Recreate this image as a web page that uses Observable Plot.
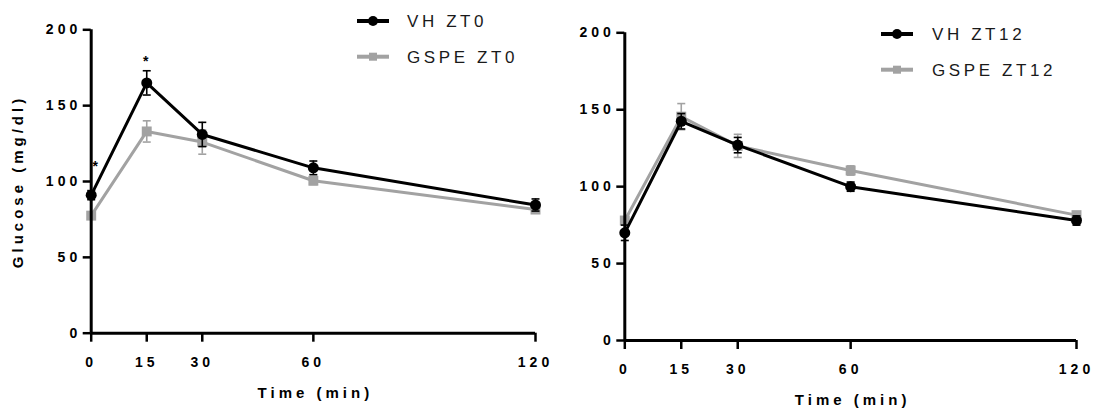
<!DOCTYPE html>
<html><head><meta charset="utf-8">
<script src="https://cdn.jsdelivr.net/npm/d3@7"></script>
<script src="https://cdn.jsdelivr.net/npm/@observablehq/plot@0.6"></script>
<style>
body{margin:0;background:#fff;}
#wrap{position:relative;width:1093px;height:410px;overflow:hidden;font-family:"Liberation Sans",Arial,sans-serif;}
.panel{position:absolute;top:0;}
.legend{position:absolute;overflow:visible;}
svg text{font-family:"Liberation Sans",Arial,sans-serif;}
g[aria-label="y-axis tick label"], g[aria-label="x-axis tick label"]{letter-spacing:4px;font-weight:bold;}
g[aria-label="text"]{letter-spacing:4px;}
</style></head>
<body><div id="wrap"></div>
<script>
// ---- data ----
const times = [0, 15, 30, 60, 120];
const timeTicks = [0, 15, 30, 60, 120];
const glucoseTicks = [0, 50, 100, 150, 200];
const seriesZT0 = ["VH ZT0", "GSPE ZT0"];
const seriesZT12 = ["VH ZT12", "GSPE ZT12"];
const vhZT0 = [91, 165, 131, 109, 84.5];
const vhZT0Sem = [3, 8, 8, 4.5, 4];
const gspeZT0 = [77.5, 133, 126, 100.5, 81.5];
const gspeZT0Sem = [2, 7, 8, 2.5, 2];
const vhZT12 = [70, 142.5, 127, 100, 78];
const vhZT12Sem = [5, 5, 5, 3, 3];
const gspeZT12 = [78, 145.5, 126.5, 110.5, 81.5];
const gspeZT12Sem = [2, 8.5, 7.5, 3, 2];
const starTimes = [0, 15];
const starGlucose = [110, 179];
const xTitle = "Time (min)";
const yTitle = "Glucose (mg/dl)";

const colors = ["#000000", "#a2a2a2"];
const hbar = {draw(ctx, size) { const w = Math.sqrt(size / Math.PI); ctx.moveTo(-w, 0); ctx.lineTo(w, 0); }};

function makePanel(o) {
  const rows = o.series.flatMap((s, i) => times.map((t, j) => ({series: s, i, t, m: o.means[i][j], e: o.sems[i][j]})));
  const marks = [];
  [1, 0].forEach(i => {
    const d = rows.filter(r => r.i === i);
    const c = colors[i];
    marks.push(
      Plot.ruleX(d, {x: "t", y1: r => r.m - r.e, y2: r => r.m + r.e, stroke: c, strokeWidth: 1.6}),
      Plot.dot(d, {x: "t", y: r => r.m + r.e, symbol: hbar, r: 4, stroke: c, strokeWidth: 1.6}),
      Plot.dot(d, {x: "t", y: r => r.m - r.e, symbol: hbar, r: 4, stroke: c, strokeWidth: 1.6}),
      Plot.line(d, {x: "t", y: "m", stroke: c, strokeWidth: 3}),
      Plot.dot(d, {x: "t", y: "m", symbol: i === 0 ? "circle" : "square", r: i === 0 ? 5.5 : 5.6, fill: c, stroke: "none"})
    );
  });
  if (o.stars) {
    o.stars.forEach((s, k) => {
      marks.push(Plot.text([s], {x: "t", y: "y", text: () => "*", fontSize: 14, fontWeight: "bold", dx: k === 0 ? 6 : 1}));
    });
  }
  marks.push(
    Plot.axisY({ticks: glucoseTicks, tickSize: 8, tickPadding: 2, fontSize: 14, fontWeight: "bold", strokeWidth: 2.5, label: null}),
    Plot.axisX({ticks: timeTicks, tickSize: 9, tickPadding: 15, fontSize: 14, fontWeight: "bold", strokeWidth: 2.5, label: null}),
    Plot.ruleX([0], {strokeWidth: 3}),
    Plot.ruleY([0], {strokeWidth: 3}),
    Plot.text([xTitle], {text: d => d, frameAnchor: "bottom", textAnchor: "middle", lineAnchor: "middle", dy: o.titleDy, dx: 2, fontSize: 15, fontWeight: "bold"})
  );
  if (o.yTitle) {
    marks.push(Plot.text([o.yTitle], {text: d => d, frameAnchor: "left", textAnchor: "middle", lineAnchor: "middle", dx: o.yTitleDx, rotate: -90, fontSize: 15, fontWeight: "bold"}));
  }
  const svg = Plot.plot({
    width: o.width, height: 410,
    marginLeft: o.margin[0], marginRight: o.margin[1], marginTop: o.margin[2], marginBottom: o.margin[3],
    x: {domain: [0, 120]},
    y: {domain: [0, 200]},
    style: {background: "transparent", overflow: "visible", color: "#000"},
    marks
  });
  svg.classList.add("panel");
  svg.style.left = o.left + "px";
  return svg;
}

function legend(container, series, left, top, gap, textX) {
  const svg = d3.select(container).append("svg").attr("class", "legend")
    .style("left", left + "px").style("top", top + "px")
    .attr("width", 230).attr("height", gap + 30);
  series.forEach((s, i) => {
    const y = 12 + i * gap;
    const g = svg.append("g");
    g.append("line").attr("x1", 0).attr("x2", 32).attr("y1", y).attr("y2", y)
      .attr("stroke", colors[i]).attr("stroke-width", 4);
    if (i === 0) g.append("circle").attr("cx", 16).attr("cy", y).attr("r", 5).attr("fill", colors[i]);
    else g.append("rect").attr("x", 12).attr("y", y - 4).attr("width", 8).attr("height", 8).attr("fill", colors[i]);
    g.append("text").attr("x", textX).attr("y", y).attr("dy", "0.36em")
      .attr("font-size", 17).attr("fill", "#1a1a1a").style("letter-spacing", "3.6px").text(s);
  });
}

const wrap = document.getElementById("wrap");
wrap.appendChild(makePanel({
  series: seriesZT0, means: [vhZT0, gspeZT0], sems: [vhZT0Sem, gspeZT0Sem],
  stars: starTimes.map((t, k) => ({t, y: starGlucose[k]})),
  width: 546, left: 0, margin: [90.7, 11, 29.3, 77.3], titleDy: 60.3,
  yTitle: yTitle, yTitleDx: -72.7
}));
wrap.appendChild(makePanel({
  series: seriesZT12, means: [vhZT12, gspeZT12], sems: [vhZT12Sem, gspeZT12Sem],
  width: 547, left: 546, margin: [78.3, 17, 32.3, 70], titleDy: 60
}));
legend(wrap, seriesZT0, 356.7, 9, 35.7, 50);
legend(wrap, seriesZT12, 880.7, 22.3, 35.7, 51);
</script>
</body></html>
